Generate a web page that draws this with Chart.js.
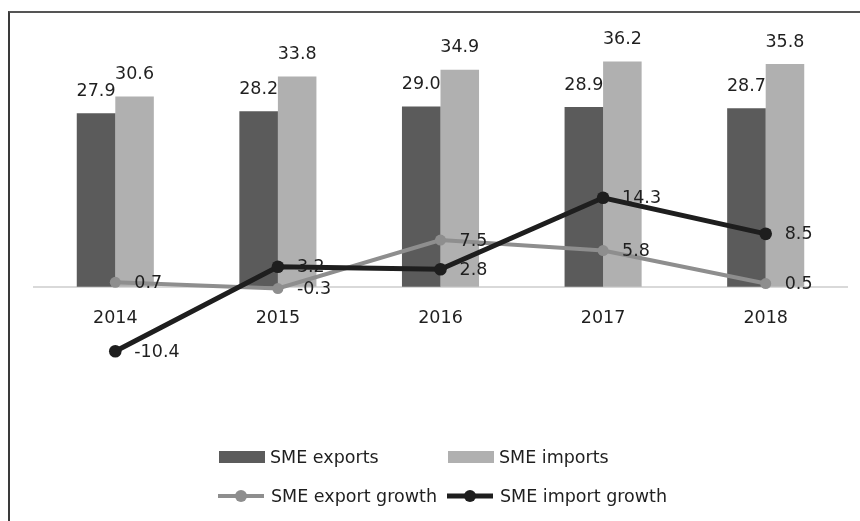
<!DOCTYPE html>
<html>
<head>
<meta charset="utf-8">
<script src="https://cdn.jsdelivr.net/npm/chart.js@4/dist/chart.umd.min.js"></script>
<style>
  html, body { margin: 0; padding: 0; background: #fff; }
  #wrap { position: relative; width: 860px; height: 521px; overflow: hidden; }
  #frame { position: absolute; left: 8px; top: 11px; width: 900px; height: 600px;
           border-left: 2px solid #3a3a3a; border-top: 2px solid #555; box-sizing: border-box; }
  #chart { position: absolute; left: 0; top: 0; }
  .lg { position: absolute; font: 17.5px "DejaVu Sans", sans-serif; color: #1f1f1f;
        display: flex; align-items: center; white-space: nowrap; }
  .lg canvas { margin-right: 5px; }
</style>
</head>
<body>
<div id="wrap">
  <div id="frame"></div>
  <canvas id="chart" width="860" height="521"></canvas>
  <div id="legend"></div>
</div>
<script>
// ── Data ─────────────────────────────────────────────────
const years         = ['2014', '2015', '2016', '2017', '2018'];
const smeExports    = [27.9, 28.2, 29.0, 28.9, 28.7];
const smeImports    = [30.6, 33.8, 34.9, 36.2, 35.8];
const exportGrowth  = [0.7, -0.3, 7.5, 5.8, 0.5];
const importGrowth  = [-10.4, 3.2, 2.8, 14.3, 8.5];

const FONT = '"DejaVu Sans", sans-serif';
const TXT  = '#1f1f1f';

// value labels (Excel style: above bars, right of line points)
const valueLabels = {
  id: 'valueLabels',
  afterDatasetsDraw(chart) {
    const ctx = chart.ctx;
    ctx.save();
    ctx.font = `17.5px ${FONT}`;
    ctx.fillStyle = TXT;
    ctx.textBaseline = 'middle';
    chart.data.datasets.forEach((ds, i) => {
      const meta = chart.getDatasetMeta(i);
      meta.data.forEach((el, j) => {
        const txt = ds.data[j].toFixed(1);
        if (ds.type === 'line') {
          ctx.textAlign = 'left';
          ctx.fillText(txt, el.x + 19, el.y + 1);
        } else {
          ctx.textAlign = 'center';
          ctx.fillText(txt, el.x, el.y - 22);
        }
      });
    });
    ctx.restore();
  }
};

const chart = new Chart(document.getElementById('chart'), {
  type: 'bar',
  data: {
    labels: years,
    datasets: [
      { label: 'SME exports', data: smeExports, backgroundColor: '#5b5b5b',
        categoryPercentage: 0.474, barPercentage: 1, order: 2 },
      { label: 'SME imports', data: smeImports, backgroundColor: '#b0b0b0',
        categoryPercentage: 0.474, barPercentage: 1, order: 2 },
      { type: 'line', label: 'SME export growth', data: exportGrowth,
        borderColor: '#8e8e8e', backgroundColor: '#8e8e8e', borderWidth: 4,
        pointRadius: 5.5, pointBorderWidth: 0, pointBackgroundColor: '#8e8e8e',
        tension: 0, order: 1 },
      { type: 'line', label: 'SME import growth', data: importGrowth,
        borderColor: '#1e1e1e', backgroundColor: '#1e1e1e', borderWidth: 5,
        pointRadius: 6.3, pointBorderWidth: 0, pointBackgroundColor: '#1e1e1e',
        tension: 0, order: 0 },
    ],
  },
  options: {
    responsive: false,
    animation: false,
    layout: { padding: { left: 34, right: 13, top: 38, bottom: 110 } },
    scales: {
      x: {
        position: { y: 0 },
        grid: { display: false, drawTicks: false },
        border: { display: true, color: '#d9d9d9', width: 2 },
        ticks: { color: TXT, font: { family: FONT, size: 17.5 }, padding: 21 },
      },
      y: { display: false, min: -20, max: 40 },
    },
    plugins: { legend: { display: false }, tooltip: { enabled: false } },
  },
  plugins: [valueLabels],
});

// ── Legend (two aligned columns, like the Excel original) ─────
const legendPos = [
  { x: 219, y: 458 }, { x: 448, y: 458 },
  { x: 216, y: 497 }, { x: 445, y: 497 },
];
const legend = document.getElementById('legend');
chart.data.datasets.forEach((ds, i) => {
  const item = document.createElement('div');
  item.className = 'lg';
  const sw = document.createElement('canvas');
  const isLine = ds.type === 'line';
  sw.width = isLine ? 50 : 46;
  sw.height = 14;
  const c = sw.getContext('2d');
  if (isLine) {
    c.strokeStyle = ds.borderColor;
    c.lineWidth = ds.borderWidth;
    c.beginPath(); c.moveTo(2, 7); c.lineTo(48, 7); c.stroke();
    c.fillStyle = ds.borderColor;
    c.beginPath(); c.arc(25, 7, 6, 0, Math.PI * 2); c.fill();
  } else {
    c.fillStyle = ds.backgroundColor;
    c.fillRect(0, 1, 46, 12);
  }
  item.appendChild(sw);
  const t = document.createElement('span');
  t.textContent = ds.label;
  item.appendChild(t);
  item.style.left = legendPos[i].x + 'px';
  item.style.top = (legendPos[i].y - 11) + 'px';
  legend.appendChild(item);
});
</script>
</body>
</html>
